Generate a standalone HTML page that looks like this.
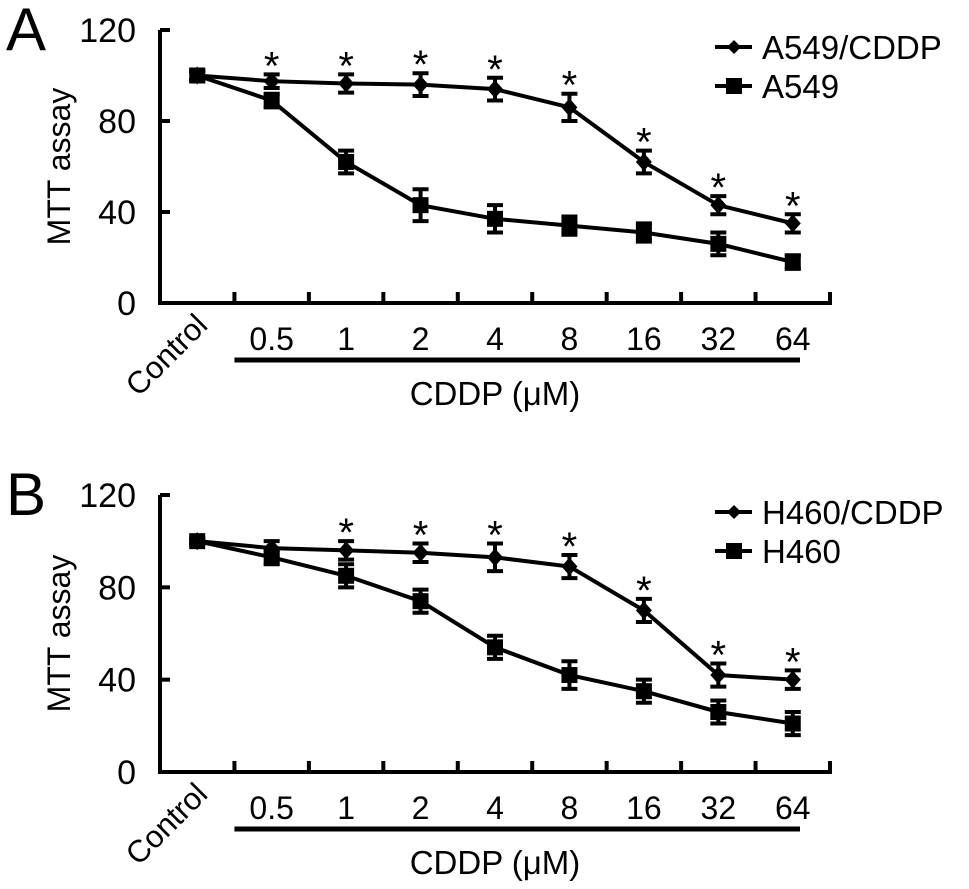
<!DOCTYPE html>
<html><head><meta charset="utf-8"><style>
html,body{margin:0;padding:0;background:#fff;}
svg{display:block;font-family:"Liberation Sans",sans-serif;}
</style></head><body>
<svg id="chart" width="969" height="889" viewBox="0 0 969 889"></svg>
<script>
const categories = ["Control","0.5","1","2","4","8","16","32","64"];
const yTicks = [0,40,80,120];
const aResistant = [100,97.5,96.5,96,94,86,62,43,35];
const aResistantErr = [2,3,4,5,5,6,5,4,4];
const aParental = [100,89,62,43,37,34,31,26,18];
const aParentalErr = [2,3,5,7,6,4,4,5,3];
const aStars = [false,true,true,true,true,true,true,true,true];
const bResistant = [100,97,96,95,93,89,70,42,40];
const bResistantErr = [1,3,4,4,6,5,5,5,4];
const bParental = [100,93,85,74,54,42,35,26,21];
const bParentalErr = [1,3,5,5,5,6,5,5,5];
const bStars = [false,false,true,true,true,true,true,true,true];
const panelLabels = ["A","B"];
const legendA = ["A549/CDDP","A549"];
const legendB = ["H460/CDDP","H460"];

const NS="http://www.w3.org/2000/svg";
const svg=document.getElementById('chart');
function mk(tag,attrs,parent,text){const e=document.createElementNS(NS,tag);for(const k in attrs)e.setAttribute(k,attrs[k]);if(text!==undefined)e.textContent=text;(parent||svg).appendChild(e);return e;}

function panel(p){
  const g=mk('g',{});
  
  
  const x0=160,x1=830,top=p.top,bot=p.bot;
  const step=(x1-x0)/9;
  const xs=i=>x0+step*(i+0.5);
  const ys=v=>bot-(v/120)*(bot-top);
  const t=mk('text',{x:6,y:p.top+20,'font-size':60},g,p.label);
  
  const ax=mk('path',{d:`M${x0},${top} V${bot} H${x1} V${bot-11}`,stroke:'#000','stroke-width':4,fill:'none'},g);
  
  yTicks.forEach(v=>{
    const y=ys(v);
    mk('line',{x1:x0,y1:y,x2:x0+10,y2:y,stroke:'#000','stroke-width':4},g);
    const l=mk('text',{x:x0-24,y:y+12,'font-size':34,'text-anchor':'end'},g,String(v));
    
  });
  for(let i=1;i<9;i++){mk('line',{x1:x0+step*i,y1:bot,x2:x0+step*i,y2:bot-11,stroke:'#000','stroke-width':4},g);}
  categories.forEach((c,i)=>{
    let l;
    if(i===0){l=mk('text',{x:0,y:0,'font-size':31,'text-anchor':'end',transform:`translate(${xs(0)+12},${bot+24}) rotate(-45)`},g,c);}
    else l=mk('text',{x:xs(i),y:bot+47,'font-size':32,'text-anchor':'middle'},g,c);
    
  });
  mk('line',{x1:x0+step,y1:bot+57,x2:800,y2:bot+57,stroke:'#000','stroke-width':5},g);
  const xt=mk('text',{x:495,y:bot+102,'font-size':33,'text-anchor':'middle'},g,'CDDP (μM)');
  
  const yt=mk('text',{x:0,y:0,'font-size':32,'text-anchor':'middle',transform:`translate(70,${(top+bot)/2}) rotate(-90)`},g,'MTT assay');
  
  function series(vals,errs,shape,name){
    const sg=mk('g',{},g);
    
    mk('polyline',{points:vals.map((v,i)=>xs(i)+','+ys(v)).join(' '),fill:'none',stroke:'#000','stroke-width':4},sg);
    vals.forEach((v,i)=>{
      const x=xs(i),y=ys(v),e=errs[i]*(bot-top)/120;
      mk('path',{d:`M${x},${y-e}V${y+e}M${x-8},${y-e}H${x+8}M${x-8},${y+e}H${x+8}`,stroke:'#000','stroke-width':4,fill:'none'},sg);
      if(shape==='sq') mk('rect',{x:x-8,y:y-8,width:16,height:16,fill:'#000'},sg);
      else mk('path',{d:`M${x},${y-9}L${x+8},${y}L${x},${y+9}L${x-8},${y}Z`,fill:'#000'},sg);
    });
  }
  series(p.par,p.parErr,'sq','series-parental');
  series(p.res,p.resErr,'dia','series-resistant');
  p.stars.forEach((s,i)=>{
    if(!s)return;
    const y=ys(p.res[i]+p.resErr[i]);
    const st=mk('text',{x:xs(i),y:y+5,'font-size':40,'text-anchor':'middle'},g,'*');
    
  });
  p.legend.forEach((name,k)=>{
    const ly=p.top+17+k*39;
    const lg=mk('g',{},g);
    
    mk('line',{x1:715,y1:ly,x2:752,y2:ly,stroke:'#000','stroke-width':4},lg);
    if(k===1) mk('rect',{x:726,y:ly-8,width:16,height:16,fill:'#000'},lg);
    else mk('path',{d:`M734,${ly-7}L741,${ly}L734,${ly+7}L727,${ly}Z`,fill:'#000'},lg);
    mk('text',{x:762,y:ly+12,'font-size':33},lg,name);
  });
}
panel({label:panelLabels[0],top:30,bot:303,res:aResistant,resErr:aResistantErr,par:aParental,parErr:aParentalErr,stars:aStars,legend:legendA});
panel({label:panelLabels[1],top:495,bot:772,res:bResistant,resErr:bResistantErr,par:bParental,parErr:bParentalErr,stars:bStars,legend:legendB});
</script>
</body></html>
